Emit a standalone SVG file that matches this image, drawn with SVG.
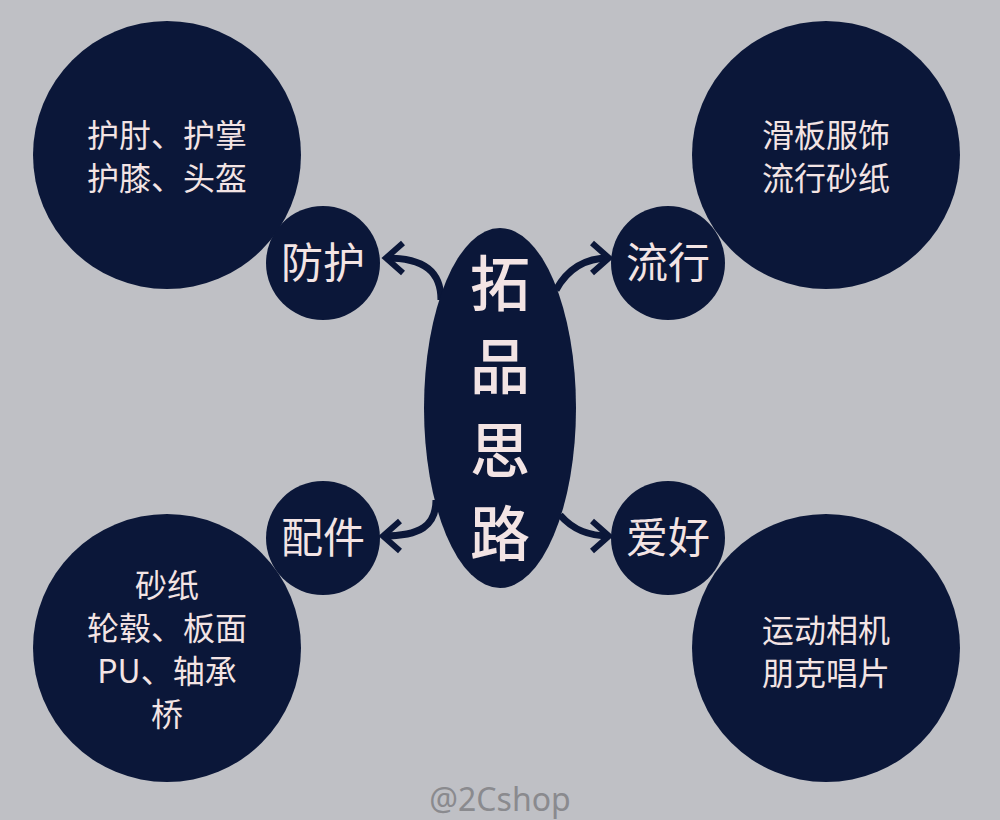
<svg xmlns="http://www.w3.org/2000/svg" width="1000" height="820" viewBox="0 0 1000 820">
<defs>
<style>
.n{fill:#0b1739}
.t{fill:#f3e4e4;font-family:"Noto Sans CJK SC","Noto Sans",sans-serif;text-anchor:middle}
.big{font-size:32px}
.mid{font-size:42px}
.ctr{font-size:60px;font-weight:500}
.c{fill:none;stroke:#0b1739;stroke-width:7}
</style>
<marker id="ah" markerUnits="userSpaceOnUse" viewBox="-30 -20 40 40" refX="0" refY="0" markerWidth="40" markerHeight="40" orient="auto">
<path d="M-17,-15 L0,0 L-17,15" fill="none" stroke="#0b1739" stroke-width="6"/>
</marker>
</defs>
<rect width="1000" height="820" fill="#bfc0c5"/>
<g id="connectors">
<path class="c" d="M441,300 C441,272 425,258 386,258" marker-end="url(#ah)"/>
<path class="c" d="M556,290 C568,268 585,258 609,258" marker-end="url(#ah)"/>
<path class="c" d="M436,500 C436,526 420,536 383,536" marker-end="url(#ah)"/>
<path class="c" d="M560,515 C574,531 590,536 609,536" marker-end="url(#ah)"/>
</g>
<g id="center"><ellipse class="n" cx="500" cy="408" rx="76" ry="180"/>
<text class="t ctr" x="500" y="306">拓</text>
<text class="t ctr" x="500" y="389">品</text>
<text class="t ctr" x="500" y="473">思</text>
<text class="t ctr" x="500" y="556">路</text></g>
<g id="tl"><circle class="n" cx="167" cy="155" r="134"/>
<text class="t big" x="167" y="147">护肘、护掌</text>
<text class="t big" x="167" y="190">护膝、头盔</text></g>
<g id="tr"><circle class="n" cx="826" cy="155" r="134"/>
<text class="t big" x="826" y="147">滑板服饰</text>
<text class="t big" x="826" y="190">流行砂纸</text></g>
<g id="bl"><circle class="n" cx="167" cy="648" r="134"/>
<text class="t big" x="167" y="597">砂纸</text>
<text class="t big" x="167" y="640">轮毂、板面</text>
<text class="t big" x="167" y="683">PU、轴承</text>
<text class="t big" x="167" y="726">桥</text></g>
<g id="br"><circle class="n" cx="826" cy="648" r="134"/>
<text class="t big" x="826" y="642">运动相机</text>
<text class="t big" x="826" y="685">朋克唱片</text></g>
<g id="fanghu"><circle class="n" cx="323" cy="263" r="57"/>
<text class="t mid" x="323" y="278">防护</text></g>
<g id="liuxing"><circle class="n" cx="668" cy="263" r="57"/>
<text class="t mid" x="668" y="278">流行</text></g>
<g id="peijian"><circle class="n" cx="323" cy="538" r="57"/>
<text class="t mid" x="323" y="553">配件</text></g>
<g id="aihao"><circle class="n" cx="668" cy="538" r="57"/>
<text class="t mid" x="668" y="553">爱好</text></g>
<text x="500" y="811" font-family="'Noto Sans','Noto Sans CJK SC',sans-serif" font-size="32" fill="#8a8a8e" text-anchor="middle">@2Cshop</text>
</svg>
